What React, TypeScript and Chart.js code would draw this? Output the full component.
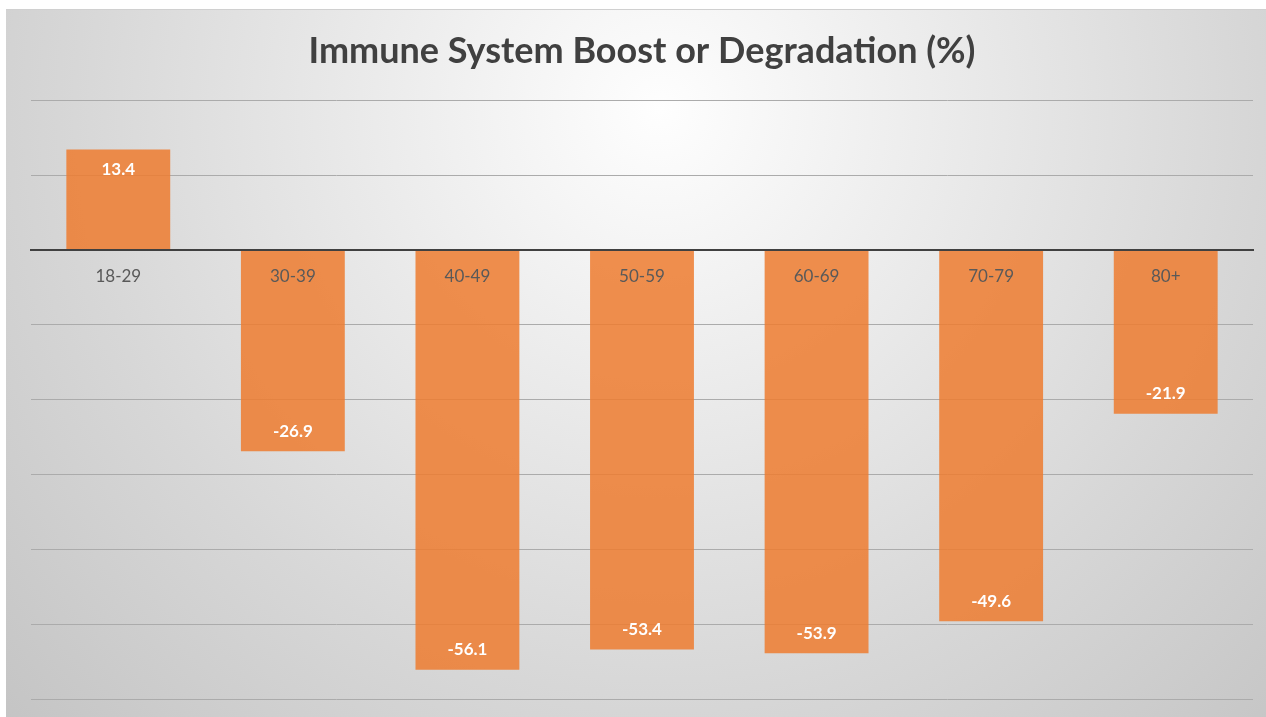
import React, { useEffect, useRef } from "react";
import { Chart, registerables } from "chart.js";

Chart.register(...registerables);

const categories = ["18-29", "30-39", "40-49", "50-59", "60-69", "70-79", "80+"];
const values = [13.4, -26.9, -56.1, -53.4, -53.9, -49.6, -21.9];
const yMin = -60;
const yMax = 20;
const yStep = 10;
const titleText = "Immune System Boost or Degradation (%)";

const W = 1266;
const H = 717;

const backgroundPlugin = {
  id: "bgPlugin",
  beforeDraw(chart: any) {
    const ctx = chart.ctx;
    ctx.save();
    ctx.fillStyle = "#ffffff";
    ctx.fillRect(0, 0, chart.width, chart.height);
    const cx = 660;
    const cy = 110;
    const g = ctx.createRadialGradient(cx, cy, 0, cx, cy, 900);
    g.addColorStop(0, "#fefefe");
    g.addColorStop(0.65, "#d7d7d7");
    g.addColorStop(1, "#c4c4c4");
    ctx.fillStyle = g;
    ctx.fillRect(6, 9, chart.width - 6, chart.height - 9);
    ctx.strokeStyle = "#d0d0d0";
    ctx.lineWidth = 1;
    ctx.beginPath();
    ctx.moveTo(6, 9.5);
    ctx.lineTo(chart.width, 9.5);
    ctx.stroke();
    ctx.restore();
  },
};

const dataLabelPlugin = {
  id: "dataLabels",
  afterDatasetsDraw(chart: any) {
    const ctx = chart.ctx;
    const meta = chart.getDatasetMeta(0);
    ctx.save();
    ctx.fillStyle = "#ffffff";
    ctx.font = "bold 17px Lato";
    ctx.textAlign = "center";
    ctx.textBaseline = "middle";
    meta.data.forEach((bar: any, i: number) => {
      const v = values[i];
      const y = v >= 0 ? bar.y + 20 : bar.y - 20;
      ctx.fillText(String(v), bar.x, y);
    });
    ctx.restore();
  },
};

export default function App() {
  const ref = useRef<HTMLCanvasElement | null>(null);

  useEffect(() => {
    if (!ref.current) return;
    const chart = new Chart(ref.current, {
      type: "bar",
      data: {
        labels: categories,
        datasets: [
          {
            data: values,
            backgroundColor: "rgba(237,125,49,0.86)",
            borderWidth: 0,
            barPercentage: 0.595,
            categoryPercentage: 1,
          },
        ],
      },
      options: {
        responsive: true,
        maintainAspectRatio: false,
        animation: false,
        layout: {
          padding: { left: 31, right: 13, top: 0, bottom: 18 },
        },
        plugins: {
          legend: { display: false },
          tooltip: { enabled: false },
          title: {
            display: true,
            text: titleText,
            color: "#404040",
            font: { family: "Lato", size: 36, weight: "bold" },
            padding: { top: 30, bottom: 27 },
          },
        },
        scales: {
          x: {
            position: { y: 0 } as any,
            grid: { display: false, drawTicks: false },
            border: { display: true, color: "#404040", width: 2, z: 1 } as any,
            ticks: {
              color: "#595959",
              font: { family: "Lato", size: 17 },
              padding: 16,
              maxRotation: 0,
              z: 1,
            },
          },
          y: {
            min: yMin,
            max: yMax,
            ticks: { display: false, stepSize: yStep },
            grid: { color: "#ababab", lineWidth: 1, drawTicks: false },
            border: { display: false },
          },
        },
      },
      plugins: [backgroundPlugin, dataLabelPlugin],
    });
    return () => chart.destroy();
  }, []);

  return (
    <div style={{ position: "absolute", left: 0, top: 0, width: W, height: H }}>
      <canvas ref={ref} />
    </div>
  );
}
